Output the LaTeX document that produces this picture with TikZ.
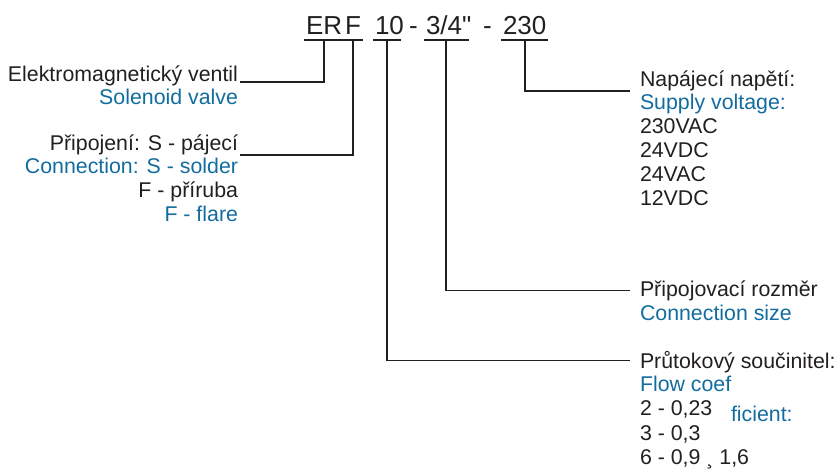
\documentclass[tikz,border=0pt]{standalone}
\usepackage{fontspec}
\setmainfont{Liberation Sans}
\newfontfamily\codefont{Liberation Sans}
\usetikzlibrary{positioning}
\definecolor{inkgray}{RGB}{35,31,32}
\definecolor{engblue}{RGB}{18,108,158}

\begin{document}
\begin{tikzpicture}[x=0.75pt, y=-0.75pt, inner sep=0pt, outer sep=0pt,
    code/.style={font=\codefont\fontsize{19.5}{20}\selectfont, text=inkgray, text depth=0pt, inner ysep=3.75pt, anchor=base west},
    cz/.style={font=\fontsize{16}{18}\selectfont, text=inkgray, inner xsep=1.5pt},
    en/.style={cz, text=engblue},
    lead/.style={draw=inkgray, line width=1.4pt},
    under/.style={draw=inkgray, line width=1.4pt, shorten <=-1.5pt, shorten >=-1.5pt}]
    \useasboundingbox (0,0) rectangle (838,470);

    % type code
    \node [code] (tER) at (306,35) {ER};
    \node [code] (tF) at (345,35) {F};
    \node [code] (t10) at (375,35) {10};
    \node [code] (tdashA) at (409,35) {-};
    \node [code] (tsize) at (426,35) {3/4"};
    \node [code] (tdashB) at (483,35) {-};
    \node [code] (tvolt) at (503,35) {230};

    \draw [under] (tER.south west) -- (tER.south east);
    \draw [under] (tF.south west) -- (tF.south east);
    \draw [under] (t10.south west) -- ([xshift=-4pt]t10.south east);
    \draw [under] (tsize.south west) -- ([xshift=-3pt]tsize.south east);
    \draw [under] (tvolt.south west) -- (tvolt.south east);

    % left side
    \node [cz, anchor=base east] (valveCz) at (240,82) {Elektromagnetický ventil};
    \node [en, anchor=base east] (valveEn) at (240,105) {Solenoid valve};
    \node [cz, anchor=base east] (connCz) at (240,151) {Připojení: S - pájecí};
    \node [en, anchor=base east] (connEn) at (240,174) {Connection: S - solder};
    \node [cz, anchor=base east] (flareCz) at (240,198) {F - příruba};
    \node [en, anchor=base east] (flareEn) at (240,222) {F - flare};

    % right side
    \node [cz, anchor=base west] (voltCz) at (638,87) {Napájecí napětí:};
    \node [en, anchor=base west] (voltEn) at (638,110) {Supply voltage:};
    \node [cz, anchor=base west] (v230ac) at (638,134) {230VAC};
    \node [cz, anchor=base west] (v24dc) at (638,158) {24VDC};
    \node [cz, anchor=base west] (v24ac) at (638,182) {24VAC};
    \node [cz, anchor=base west] (v12dc) at (638,206) {12VDC};

    \node [cz, anchor=base west] (sizeCz) at (638,296) {Připojovací rozměr};
    \node [en, anchor=base west] (sizeEn) at (638,320) {Connection size};

    \node [cz, anchor=base west] (flowCz) at (638,368) {Průtokový součinitel:};
    \node [en, anchor=base west] (flowEn) at (638,391) {Flow coef};
    \node [en, anchor=base west] (flowEnB) at (729,421) {ficient:};
    \node [cz, anchor=base west] (kv2) at (638,415) {2 - 0,23};
    \node [cz, anchor=base west] (kv3) at (638,440) {3 - 0,3};
    \node [cz, anchor=base west] (kv6) at (638,464) {6 - 0,9 ¸ 1,6};

    % leader lines
    \draw [lead] (tER.south) |- (valveCz.base east);
    \draw [lead] (tF.south) |- (connCz.south east);
    \draw [lead, shorten >=6pt] ([xshift=-2pt]t10.south) |- ([yshift=3pt]flowCz.mid west);
    \draw [lead, shorten >=6pt] ([xshift=-2pt]tsize.south) |- ([yshift=1.5pt]sizeCz.mid west);
    \draw [lead, shorten >=6pt] (tvolt.south) |- (voltCz.south west);
\end{tikzpicture}
\end{document}
